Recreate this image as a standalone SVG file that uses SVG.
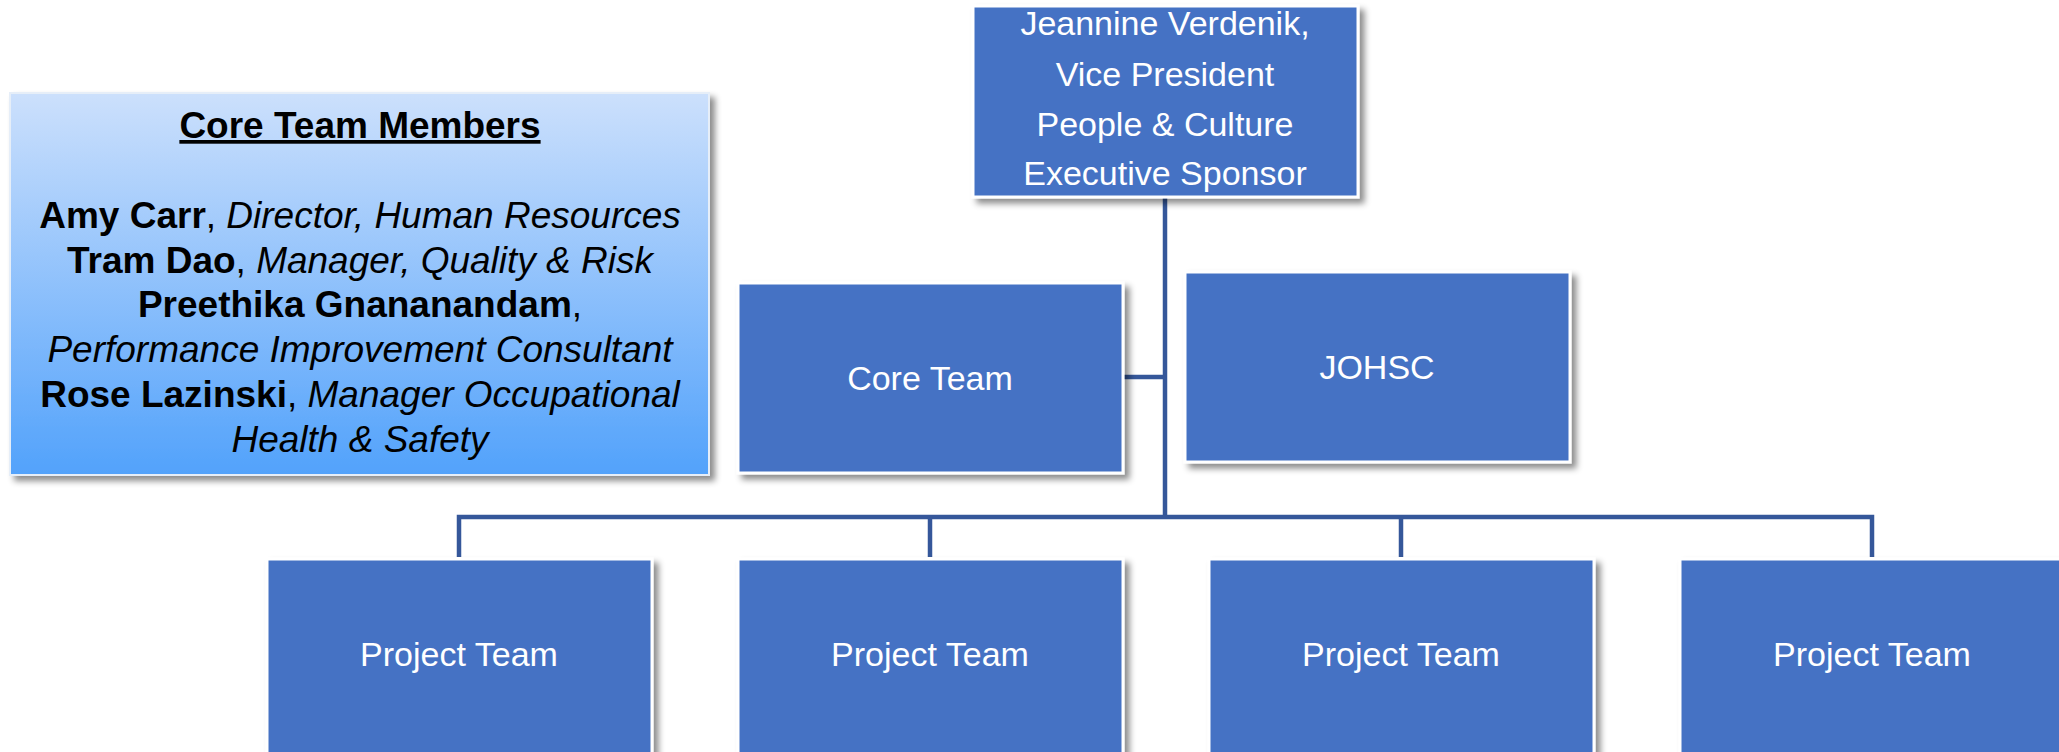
<svg xmlns="http://www.w3.org/2000/svg" width="2059" height="752" viewBox="0 0 2059 752">
<defs>
<filter id="sh" x="-10%" y="-10%" width="130%" height="130%">
<feDropShadow dx="5" dy="5" stdDeviation="3" flood-color="#000" flood-opacity="0.45"/>
</filter>
<linearGradient id="panelGrad" x1="0" y1="0" x2="0" y2="1">
<stop offset="0" stop-color="#CCE0FC"/>
<stop offset="1" stop-color="#52A2FB"/>
</linearGradient>
</defs>
<style>
.box{fill:#4472C4;stroke:#FFFFFF;stroke-width:3;filter:url(#sh);}
.lbl{font-family:"Liberation Sans",Arial,sans-serif;font-size:34px;fill:#FFFFFF;text-anchor:middle;}
.conn{stroke:#35579A;stroke-width:4.5;fill:none;}
.pt{font-family:"Liberation Sans",Arial,sans-serif;font-size:37px;fill:#000000;text-anchor:middle;}
.b{font-weight:bold;}
.i{font-style:italic;}
</style>
<rect width="2059" height="752" fill="#FFFFFF"/>

<g id="connectors">
<path class="conn" d="M1165,197 V517"/>
<path class="conn" d="M1123,377 H1165"/>
<path class="conn" d="M459,557 V517 H1872 V557"/>
<path class="conn" d="M930,517 V557"/>
<path class="conn" d="M1401,517 V557"/>
</g>

<g id="core-team-members">
<rect x="10" y="93" width="699" height="382" fill="url(#panelGrad)" stroke="#E6EEF8" stroke-width="2" filter="url(#sh)"/>
<text class="pt b" x="360" y="138" text-decoration="underline">Core Team Members</text>
<text class="pt" x="360" y="228"><tspan class="b">Amy Carr</tspan>, <tspan class="i">Director, Human Resources</tspan></text>
<text class="pt" x="360" y="273"><tspan class="b">Tram Dao</tspan>, <tspan class="i">Manager, Quality &amp; Risk</tspan></text>
<text class="pt" x="360" y="317"><tspan class="b">Preethika Gnananandam</tspan>,</text>
<text class="pt i" x="360" y="362">Performance Improvement Consultant</text>
<text class="pt" x="360" y="407"><tspan class="b">Rose Lazinski</tspan>, <tspan class="i">Manager Occupational</tspan></text>
<text class="pt i" x="360" y="452">Health &amp; Safety</text>
</g>

<g id="vp">
<rect class="box" x="973" y="6" width="385" height="191"/>
<text class="lbl" x="1165" y="35">Jeannine Verdenik,</text>
<text class="lbl" x="1165" y="86">Vice President</text>
<text class="lbl" x="1165" y="136">People &amp; Culture</text>
<text class="lbl" x="1165" y="185">Executive Sponsor</text>
</g>

<g id="core-team">
<rect class="box" x="738" y="283" width="385" height="190"/>
<text class="lbl" x="930" y="390">Core Team</text>
</g>

<g id="johsc">
<rect class="box" x="1185" y="272" width="385" height="190"/>
<text class="lbl" x="1377" y="379">JOHSC</text>
</g>

<g id="project-team-1">
<rect class="box" x="267" y="559" width="385" height="200"/>
<text class="lbl" x="459" y="666">Project Team</text>
</g>
<g id="project-team-2">
<rect class="box" x="738" y="559" width="385" height="200"/>
<text class="lbl" x="930" y="666">Project Team</text>
</g>
<g id="project-team-3">
<rect class="box" x="1209" y="559" width="385" height="200"/>
<text class="lbl" x="1401" y="666">Project Team</text>
</g>
<g id="project-team-4">
<rect class="box" x="1680" y="559" width="385" height="200"/>
<text class="lbl" x="1872" y="666">Project Team</text>
</g>
</svg>
